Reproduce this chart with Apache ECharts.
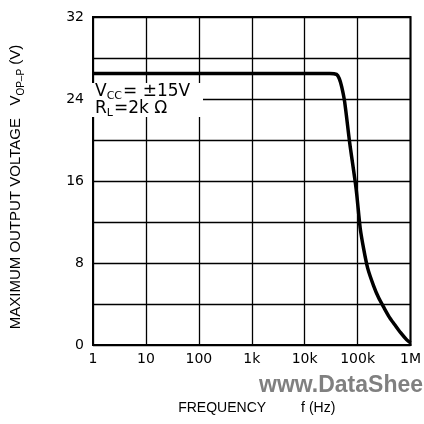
<!DOCTYPE html>
<html>
<head>
<meta charset="utf-8">
<style>html,body{margin:0;padding:0;background:#fff;}#c{width:424px;height:424px;}</style>
<script src="https://cdn.jsdelivr.net/npm/echarts@6/dist/echarts.min.js"></script>
</head>
<body>
<div id="c"></div>
<script>
const freq = [1, 10, 100, 1000, 10000, 30000, 40000, 45000, 50000, 57000, 71000, 94000, 112000, 130000, 155000, 200000, 250000, 318000, 400000, 500000, 650000, 850000, 1000000];
const vout = [26.5, 26.5, 26.5, 26.5, 26.5, 26.5, 26.4, 26.0, 25.2, 23.7, 19.7, 15.2, 11.4, 9.4, 7.5, 5.8, 4.6, 3.6, 2.7, 2.0, 1.2, 0.5, 0.2];
const xTickValues = [1, 10, 100, 1000, 10000, 100000, 1000000];
const xTickLabels = ['1', '10', '100', '1k', '10k', '100k', '1M'];
const yTickLabels = [0, 8, 16, 24, 32];

const chart = echarts.init(document.getElementById('c'), null, {renderer: 'canvas'});
const font = '"Liberation Sans", Arial, sans-serif';
const wide = '"DejaVu Sans", sans-serif';
chart.setOption({
  animation: false,
  backgroundColor: '#fff',
  grid: {left: 89, right: 12, top: 17, bottom: 79, show: true, borderColor: '#000', borderWidth: 2, backgroundColor: 'transparent'},
  xAxis: {
    type: 'log', logBase: 10, min: 1, max: 1000000,
    axisLine: {show: true, lineStyle: {color: '#000', width: 2}},
    axisTick: {show: false},
    splitLine: {show: true, lineStyle: {color: '#000', width: 1.3}},
    minorSplitLine: {show: false},
    axisLabel: {
      color: '#000', fontFamily: wide, fontSize: 14, margin: 7,
      formatter: function (v) { const i = xTickValues.indexOf(Math.round(v)); return i >= 0 ? xTickLabels[i] : ''; }
    },
    name: 'FREQUENCY         f (Hz)', nameLocation: 'middle', nameGap: 56,
    nameTextStyle: {color: '#000', fontFamily: font, fontSize: 14, padding: [0, 0, 0, 10]}
  },
  yAxis: {
    type: 'value', min: 0, max: 32, interval: 4,
    axisLine: {show: true, lineStyle: {color: '#000', width: 2}},
    axisTick: {show: false},
    splitLine: {show: true, lineStyle: {color: '#000', width: 1.3}},
    axisLabel: {
      color: '#000', fontFamily: wide, fontSize: 14, margin: 9,
      formatter: function (v) { return yTickLabels.indexOf(v) >= 0 ? String(v) : ''; }
    },
    name: '{a|MAXIMUM OUTPUT VOLTAGE   V}{s|OP–P}{a| (V)}', nameLocation: 'middle', nameGap: 70, nameRotate: 90,
    nameTextStyle: {
      color: '#000', fontFamily: font, fontSize: 15, padding: [0, 12, 0, 0],
      rich: {
        a: {color: '#000', fontFamily: font, fontSize: 15, lineHeight: 18, verticalAlign: 'bottom'},
        s: {color: '#000', fontFamily: font, fontSize: 10, lineHeight: 18, verticalAlign: 'bottom', padding: [0, 0, -3, 0]}
      }
    }
  },
  graphic: [
    {type: 'rect', left: 91, top: 83, shape: {width: 112, height: 34}, style: {fill: '#fff'}, z: 100},
    {type: 'text', left: 95, top: 83, z: 101,
      style: {text: '{a|V}{s|CC}{a|= ±15V}', fill: '#000',
        rich: {a: {fontSize: 17, fontFamily: wide, fill: '#000', lineHeight: 17, verticalAlign: 'bottom'},
               s: {fontSize: 11, fontFamily: wide, fill: '#000', lineHeight: 17, verticalAlign: 'bottom', padding: [0, 1, -2, 0]}}}},
    {type: 'text', left: 95, top: 100, z: 101,
      style: {text: '{a|R}{s|L}{a|=2k Ω}', fill: '#000',
        rich: {a: {fontSize: 17, fontFamily: wide, fill: '#000', lineHeight: 17, verticalAlign: 'bottom'},
               s: {fontSize: 11, fontFamily: wide, fill: '#000', lineHeight: 17, verticalAlign: 'bottom', padding: [0, 1, -2, 0]}}}},
    {type: 'text', left: 259, top: 374, z: 101,
      style: {text: 'www.DataShee', fill: '#808080', font: 'bold 23px "Liberation Sans", Arial, sans-serif'}}
  ],
  series: [{
    type: 'line',
    data: freq.map((f, i) => [f, vout[i]]),
    showSymbol: false,
    smooth: 0.25,
    lineStyle: {color: '#000', width: 3.5},
    z: 5
  }]
});
</script>
</body>
</html>
